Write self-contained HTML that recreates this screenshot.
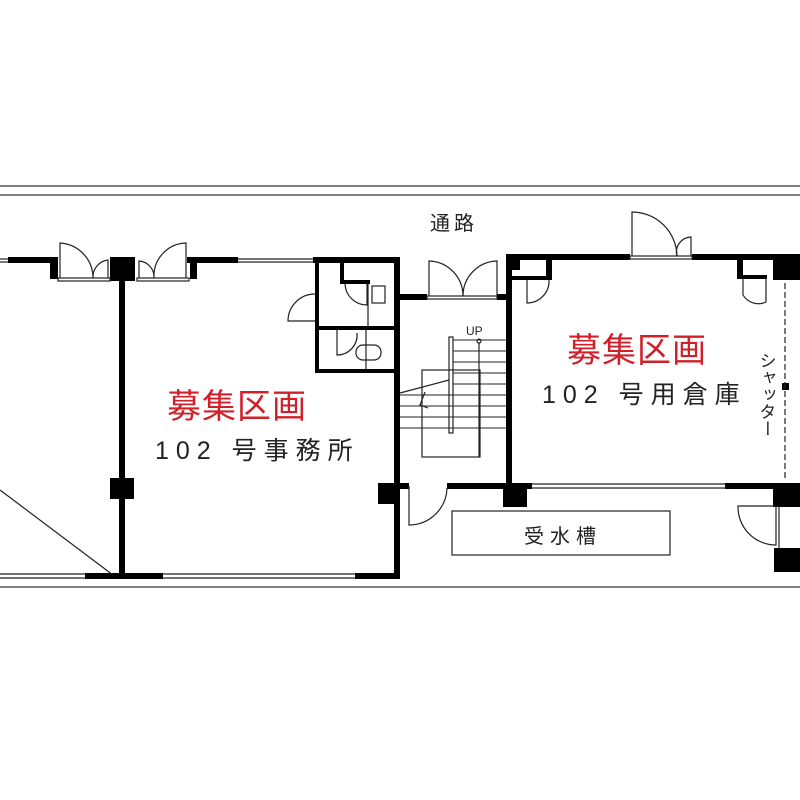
<!DOCTYPE html>
<html><head><meta charset="utf-8"><style>
html,body{margin:0;padding:0;background:#fff;width:800px;height:800px;overflow:hidden}
text{font-family:"Liberation Sans","Noto Sans CJK JP",sans-serif}
</style></head><body>
<svg width="800" height="800" viewBox="0 0 800 800" xmlns="http://www.w3.org/2000/svg">
<g stroke="#555" stroke-width="1.5" fill="none">
<line x1="0" y1="186" x2="800" y2="186"/>
<line x1="0" y1="195" x2="800" y2="195"/>
<line x1="0" y1="587" x2="800" y2="587"/>
</g>
<g fill="#000">
<rect x="8" y="257" width="48" height="6"/>
<rect x="50" y="257" width="8" height="22"/>
<rect x="110" y="257" width="25" height="24"/>
<rect x="187" y="257" width="10" height="6"/>
<rect x="190" y="257" width="7" height="22"/>
<rect x="192" y="257" width="46" height="6"/>
<rect x="313" y="257" width="87" height="6"/>
<rect x="119" y="260" width="6" height="318"/>
<rect x="110" y="478" width="24" height="21"/>
<rect x="394" y="257" width="6" height="321"/>
<rect x="378" y="483" width="20" height="21"/>
<rect x="85" y="573" width="78" height="6"/>
<rect x="355" y="573" width="45" height="6"/>
<rect x="315" y="260" width="4" height="113"/>
<rect x="315" y="369" width="82" height="4"/>
<rect x="315" y="326" width="82" height="4"/>
<rect x="340" y="260" width="4" height="22"/>
<rect x="340" y="280" width="30" height="4"/>
<rect x="397" y="294" width="30" height="6"/>
<rect x="497" y="294" width="14" height="6"/>
<rect x="506" y="254" width="6" height="250"/>
<rect x="397" y="483" width="12" height="6"/>
<rect x="447" y="483" width="85" height="6"/>
<rect x="503" y="483" width="24" height="24"/>
<rect x="506" y="254" width="124" height="6"/>
<rect x="692" y="254" width="108" height="6"/>
<rect x="512" y="258" width="8" height="12"/>
<rect x="512" y="276" width="40" height="4"/>
<rect x="546" y="258" width="6" height="22"/>
<rect x="737" y="258" width="6" height="20"/>
<rect x="737" y="275" width="30" height="4"/>
<rect x="773" y="258" width="27" height="22"/>
<rect x="725" y="483" width="75" height="6"/>
<rect x="773" y="483" width="27" height="24"/>
<rect x="774" y="548" width="26" height="24"/>
<rect x="782" y="383" width="7" height="7"/>
</g>
<g stroke="#222" stroke-width="1.2" fill="none">
<line x1="0" y1="259" x2="8" y2="259"/><line x1="0" y1="262" x2="8" y2="262"/>
<line x1="238" y1="259" x2="313" y2="259"/><line x1="238" y1="262" x2="313" y2="262"/>
<line x1="0" y1="574" x2="85" y2="574"/><line x1="0" y1="578" x2="85" y2="578"/>
<line x1="163" y1="574" x2="355" y2="574"/><line x1="163" y1="578" x2="355" y2="578"/>
<line x1="532" y1="484" x2="725" y2="484"/><line x1="532" y1="488" x2="725" y2="488"/>
<line x1="0" y1="490" x2="113" y2="575"/>
<rect x="58" y="278" width="52" height="3"/>
<rect x="137" y="278" width="52" height="3"/>
<path d="M60 278 V243 A35 35 0 0 1 93 278"/>
<path d="M108 278 V260 A17 17 0 0 0 93 278"/>
<path d="M139 278 V261 A16 16 0 0 1 154 278"/>
<path d="M186 278 V243 A33 33 0 0 0 154 278"/>
<path d="M315 294 A27 27 0 0 0 288 321 H315"/>
<path d="M345 284 A22 22 0 0 0 367 305 V284"/>
<rect x="372" y="286" width="13" height="17"/>
<line x1="368" y1="284" x2="368" y2="326"/>
<path d="M337 330 V355 A20 20 0 0 0 357 333"/>
<rect x="356" y="345" width="25" height="15" rx="7"/>
<line x1="366" y1="330" x2="366" y2="369"/>
<rect x="427" y="296" width="70" height="3"/>
<path d="M429 296 V261 A35 35 0 0 1 463 296"/>
<path d="M497 296 V261 A35 35 0 0 0 463 296"/>
<rect x="449" y="337" width="4" height="96"/>
<rect x="422" y="370" width="58" height="87"/>
<circle cx="479" cy="341" r="2"/>
<line x1="479" y1="343" x2="479" y2="457"/>
<line x1="400" y1="393" x2="449" y2="380"/>
<path d="M425 392 L420 405 L428 408"/>
</g>
<g stroke="#222" stroke-width="1">
<line x1="453" y1="340" x2="506" y2="340"/><line x1="453" y1="351" x2="506" y2="351"/>
<line x1="453" y1="362" x2="506" y2="362"/><line x1="453" y1="373" x2="506" y2="373"/>
<line x1="453" y1="384" x2="506" y2="384"/><line x1="400" y1="395" x2="506" y2="395"/>
<line x1="400" y1="406" x2="506" y2="406"/><line x1="400" y1="417" x2="506" y2="417"/>
<line x1="400" y1="428" x2="506" y2="428"/>
</g>
<g stroke="#222" stroke-width="1.2" fill="none">
<path d="M409 486 V525 A38 38 0 0 0 447 488"/>
<rect x="630" y="256" width="62" height="3"/>
<path d="M632 256 V212 A45 45 0 0 1 677 256"/>
<path d="M691 256 V237 A15 15 0 0 0 677 256"/>
<path d="M527 280 V303 A22 22 0 0 0 549 280"/>
<path d="M743 278 V295 A18 18 0 0 0 766 302 V278"/>
<line x1="785" y1="283" x2="785" y2="480" stroke-dasharray="6 3"/>
<path d="M776 506 H738 A38 38 0 0 0 776 545 Z"/>
<line x1="779" y1="506" x2="779" y2="548"/>
<rect x="452" y="511" width="218" height="44"/>
</g>
<g font-size="20" fill="#222">
<text x="430" y="230" letter-spacing="4">通路</text>
<text x="466" y="335" font-size="12">UP</text>
<text x="155" y="459" font-size="25" letter-spacing="7">102 号事務所</text>
<text x="542" y="403" font-size="25" letter-spacing="7">102 号用倉庫</text>
<text x="524" y="543" letter-spacing="6">受水槽</text>
<text font-size="17" x="766" y="352" style="writing-mode:vertical-rl">シャッター</text>
</g>
<g fill="#d0202a" font-size="34">
<text x="167" y="418" letter-spacing="1">募集区画</text>
<text x="567" y="362" letter-spacing="1">募集区画</text>
</g>
</svg>
</body></html>
